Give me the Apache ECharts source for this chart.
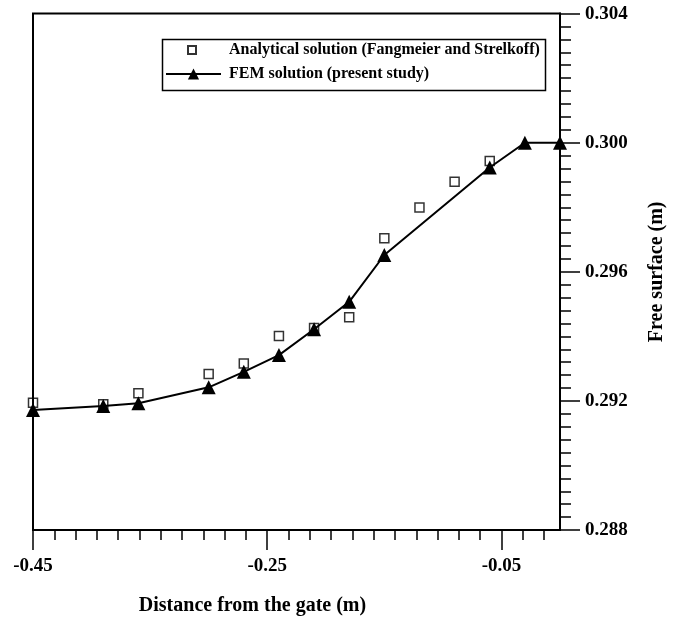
<!DOCTYPE html>
<html>
<head>
<meta charset="utf-8">
<script src="https://cdn.jsdelivr.net/npm/echarts@6/dist/echarts.min.js"></script>
<style>
html,body{margin:0;padding:0;background:#fff;}
#chart{width:673px;height:625px;}
</style>
</head>
<body>
<div id="chart"></div>
<script>
// ---- data ----
const femX = [-0.45, -0.39, -0.36, -0.30, -0.27, -0.24, -0.21, -0.18, -0.15, -0.06, -0.03, 0.0];
const femY = [0.29172, 0.29184, 0.29193, 0.29242, 0.2929, 0.29342, 0.29422, 0.29507, 0.29652, 0.29923, 0.3000, 0.3000];
const anaX = [-0.45, -0.39, -0.36, -0.30, -0.27, -0.24, -0.21, -0.18, -0.15, -0.12, -0.09, -0.06];
const anaY = [0.29194, 0.2919, 0.29224, 0.29283, 0.29316, 0.29401, 0.29426, 0.29459, 0.29704, 0.29799, 0.29879, 0.29943];
const xMajorTicks = [-0.45, -0.25, -0.05];
const xMinorStep = 0.2 / 11;
const xMinorTicks = [];
for (let k = 0; k <= 24; k++) xMinorTicks.push(+(-0.45 + k * xMinorStep).toFixed(6));
const nameAna = 'Analytical solution (Fangmeier and Strelkoff)';
const nameFem = 'FEM solution (present study)';
const xTitle = 'Distance from the gate (m)';
const yTitle = 'Free surface (m)';

const FONT = 'Liberation Serif';
const chart = echarts.init(document.getElementById('chart'));
const zip = (a, b) => a.map((v, i) => [v, b[i]]);

chart.setOption({
  animation: false,
  backgroundColor: '#fff',
  grid: {
    left: 33, right: 113, top: 13.6, bottom: 95,
    show: true, borderColor: '#000', borderWidth: 2,
    outerBoundsMode: 'none', containLabel: false
  },
  legend: [
    {
      data: [nameAna], left: 182, top: 37, orient: 'vertical',
      itemWidth: 8, itemHeight: 8, selectedMode: false,
      textStyle: { fontFamily: FONT, fontWeight: 'bold', fontSize: 16, color: '#000', padding: [0, 0, 0, 28] }
    },
    {
      data: [nameFem], left: 160, top: 61, orient: 'vertical',
      itemWidth: 55, itemHeight: 14, selectedMode: false,
      textStyle: { fontFamily: FONT, fontWeight: 'bold', fontSize: 16, color: '#000', padding: [0, 0, 0, 3] }
    }
  ],
  graphic: [{
    type: 'rect', left: 160, top: 37, z: 100,
    shape: { width: 383, height: 51 },
    style: { fill: 'none', stroke: '#000', lineWidth: 1.5 }
  }],
  xAxis: [
    {
      type: 'value', min: -0.45, max: 0, position: 'bottom',
      name: xTitle, nameLocation: 'middle', nameGap: 66,
      nameTextStyle: { fontFamily: FONT, fontWeight: 'bold', fontSize: 20, color: '#000', padding: [0, 88, 0, 0] },
      axisLine: { show: true, lineStyle: { color: '#000', width: 2 } },
      axisTick: { show: true, length: 20, customValues: xMajorTicks, lineStyle: { color: '#000', width: 1.5 } },
      axisLabel: { customValues: xMajorTicks, margin: 27, fontFamily: FONT, fontWeight: 'bold', fontSize: 19, color: '#000',
        formatter: v => String(+v.toFixed(2)) },
      splitLine: { show: false }
    },
    {
      type: 'value', min: -0.45, max: 0, position: 'bottom', gridIndex: 0,
      axisLine: { show: false },
      axisTick: { show: true, length: 10, customValues: xMinorTicks, lineStyle: { color: '#000', width: 1.5 } },
      axisLabel: { show: false },
      splitLine: { show: false }
    }
  ],
  yAxis: {
    type: 'value', min: 0.288, max: 0.304, interval: 0.004, position: 'right',
    name: yTitle, nameLocation: 'middle', nameRotate: 90, nameGap: 87,
    nameTextStyle: { fontFamily: FONT, fontWeight: 'bold', fontSize: 20, color: '#000' },
    axisLine: { show: true, lineStyle: { color: '#000', width: 2 } },
    axisTick: { show: true, length: 20, lineStyle: { color: '#000', width: 1.5 } },
    minorTick: { show: true, splitNumber: 10, length: 11, lineStyle: { color: '#000', width: 1.5 } },
    axisLabel: { margin: 25, fontFamily: FONT, fontWeight: 'bold', fontSize: 19, color: '#000',
      formatter: v => v.toFixed(3) },
    splitLine: { show: false }
  },
  series: [
    {
      name: nameAna, type: 'scatter', data: zip(anaX, anaY),
      symbol: 'rect', symbolSize: 9, clip: false, z: 3,
      itemStyle: { color: 'rgba(255,255,255,0)', borderColor: '#000', borderWidth: 1.5 }
    },
    {
      name: nameFem, type: 'line', data: zip(femX, femY),
      symbol: 'triangle', symbolSize: 14, showAllSymbol: true, clip: false, z: 2,
      lineStyle: { color: '#000', width: 2 },
      itemStyle: { color: '#000' }
    }
  ]
});
</script>
</body>
</html>
